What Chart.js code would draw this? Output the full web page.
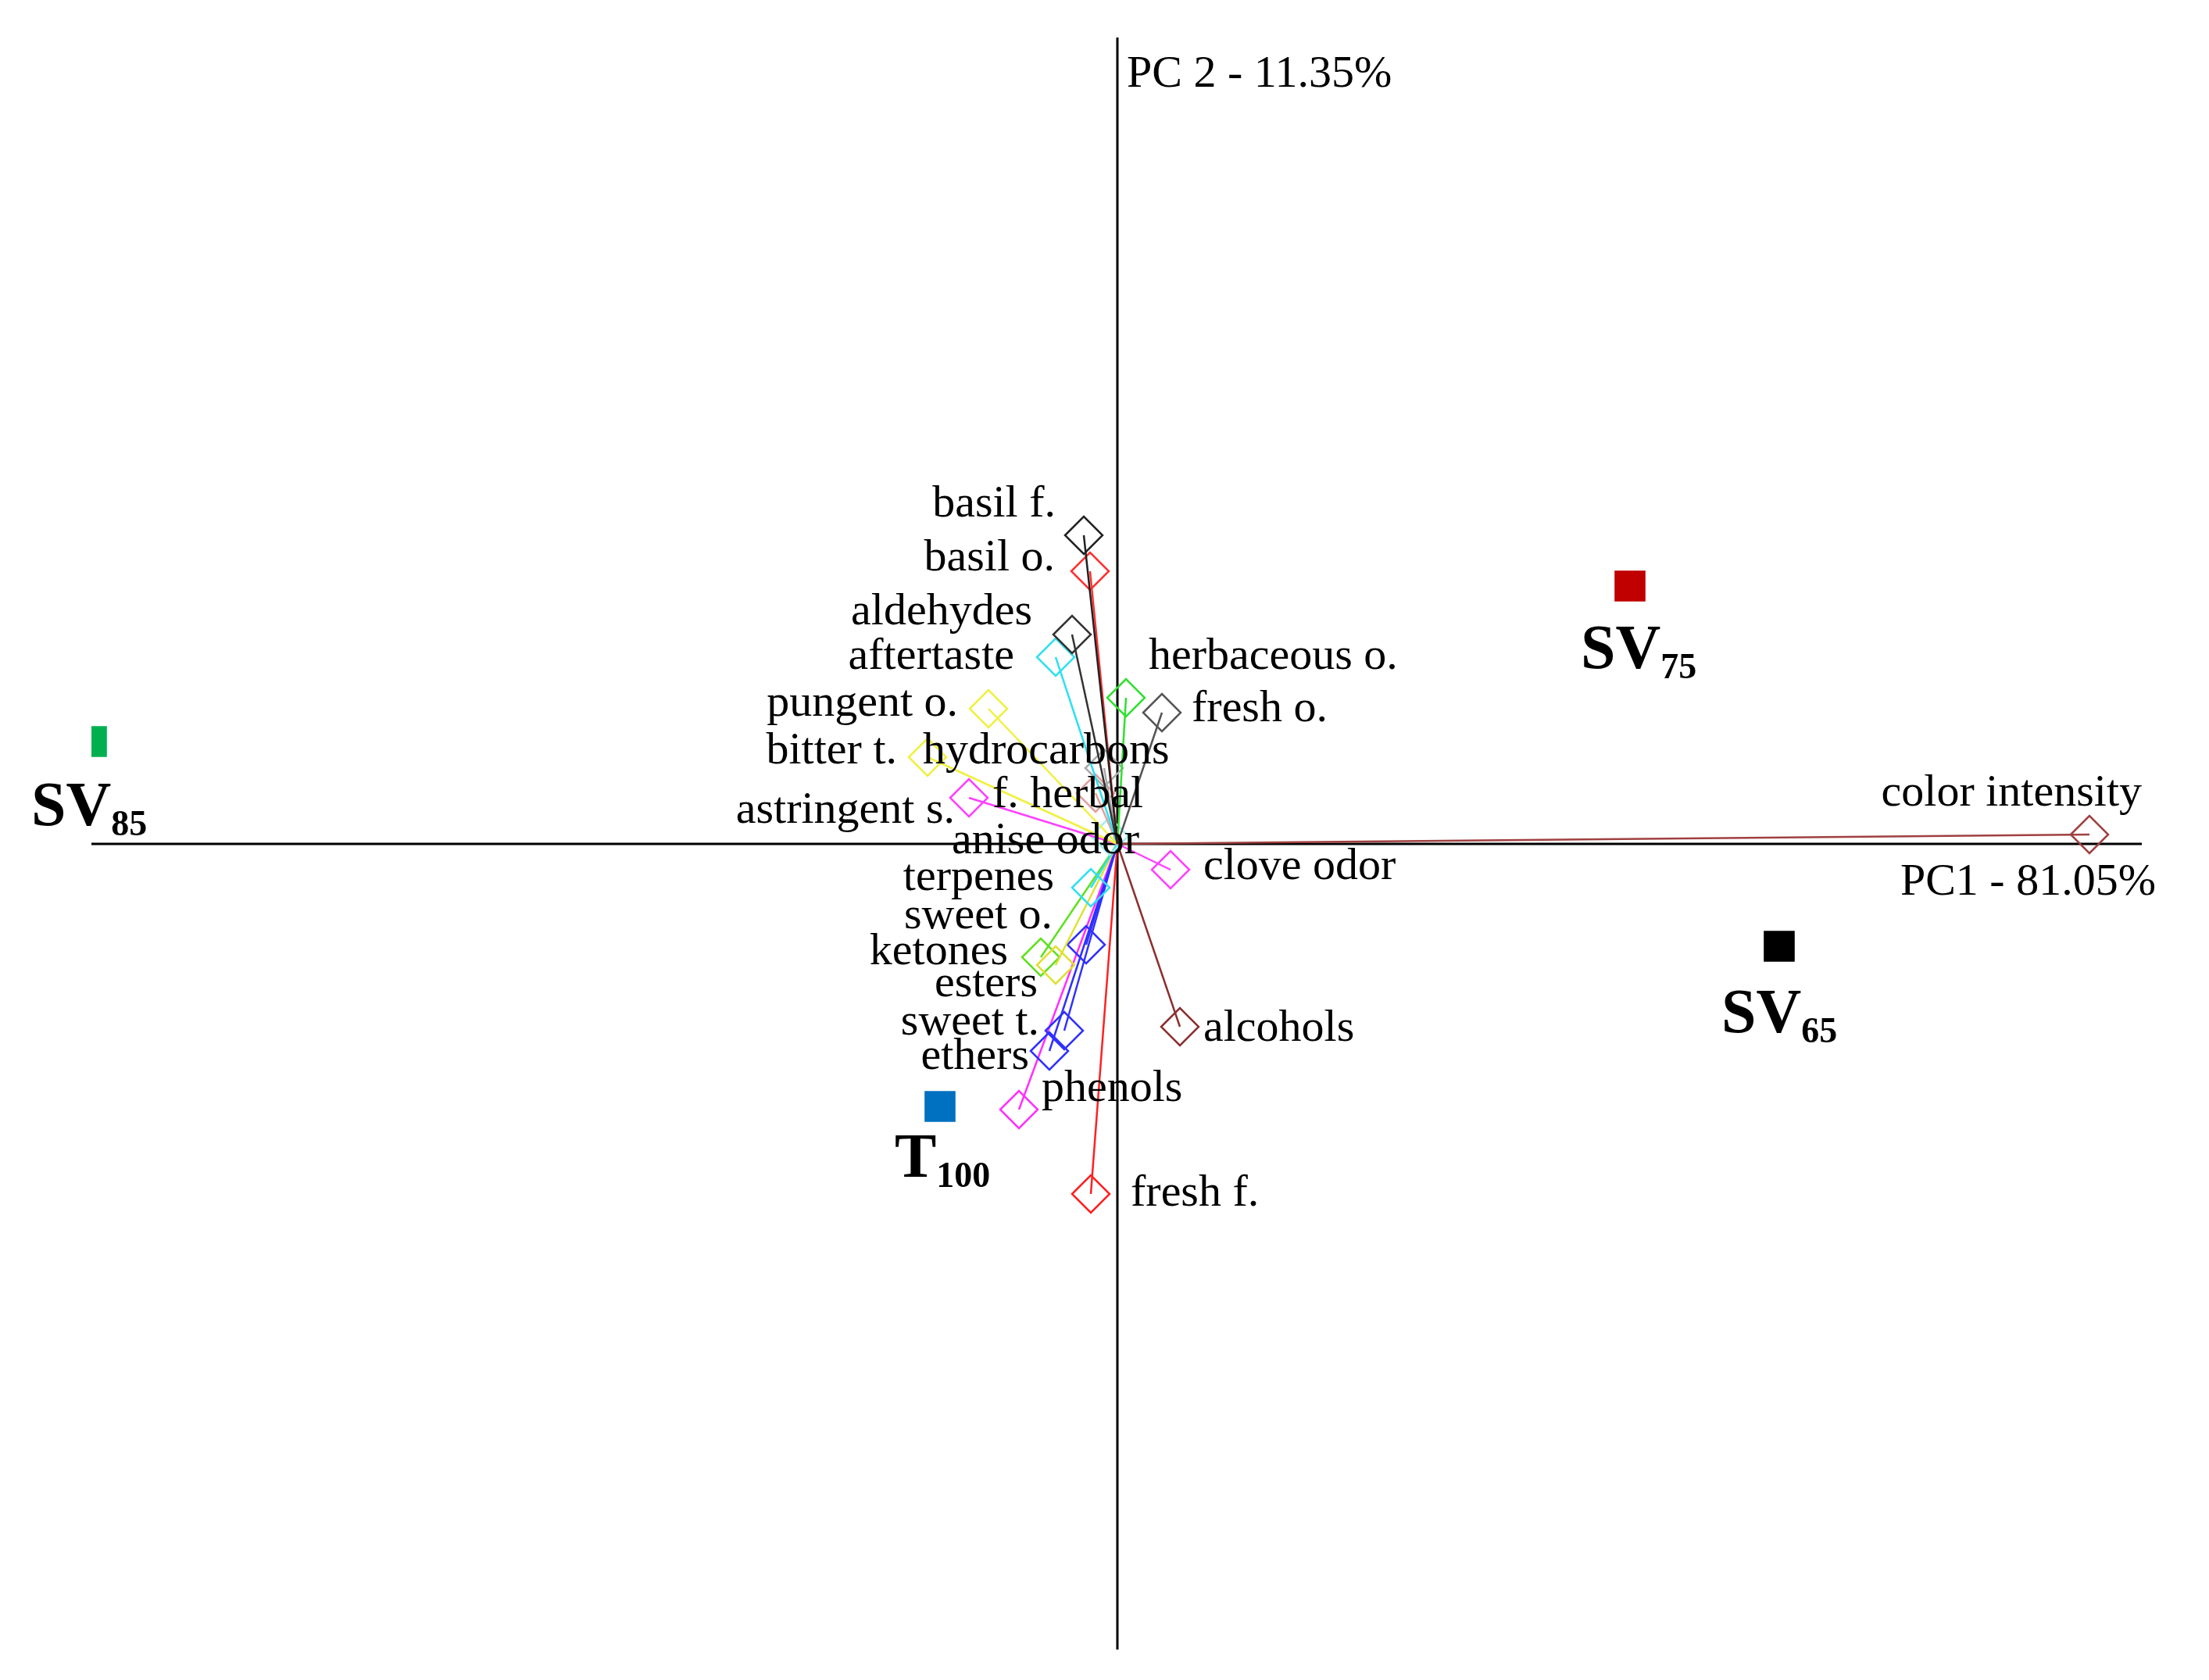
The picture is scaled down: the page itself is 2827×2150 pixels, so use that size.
<!DOCTYPE html>
<html><head><meta charset="utf-8">
<script src="https://cdn.jsdelivr.net/npm/chart.js@4"></script>
<style>html,body{margin:0;padding:0;background:#fff}</style>
</head><body>
<canvas id="c" width="2827" height="2150"></canvas>
<script>
// Scores (samples)
const sampleNames = ["SV", "SV", "SV", "T"];
const sampleSubs = ["85", "75", "65", "100"];
const sampleX = [-13.13, 6.56, 8.47, -2.27];
const sampleY = [1.31, 3.30, -1.31, -3.36];
const sampleColors = ["#00b050", "#c00000", "#000000", "#0070c0"];

// Loadings (variables)
const varNames = ["basil f.", "basil o.", "aldehydes", "aftertaste", "herbaceous o.", "fresh o.", "pungent o.", "bitter t.", "hydrocarbons", "f. herbal", "astringent s.", "anise odor", "clove odor", "terpenes", "sweet o.", "ketones", "esters", "sweet t.", "ethers", "phenols", "fresh f.", "alcohols", "color intensity"];
const varX = [-0.43, -0.35, -0.58, -0.79, 0.11, 0.57, -1.65, -2.43, -0.17, -0.28, -1.90, -0.10, 0.68, -0.34, -0.79, -0.98, -0.40, -0.68, -0.87, -1.26, -0.34, 0.80, 12.44];
const varY = [3.95, 3.49, 2.68, 2.39, 1.87, 1.68, 1.73, 1.11, 0.97, 0.65, 0.59, 0.10, -0.33, -0.56, -1.55, -1.45, -1.29, -2.39, -2.65, -3.40, -4.48, -2.34, 0.12];
const varColors = ["#222222", "#ff3030", "#333333", "#30e0f0", "#30e030", "#555555", "#f0f040", "#f0f040", "#aaaaaa", "#e0a0a0", "#ff40ff", "#a0f0f0", "#ff40ff", "#30e0f0", "#e0e030", "#60e020", "#3030ff", "#3030ff", "#3030ff", "#ff30ff", "#ff2020", "#8b3030", "#a04040"];
const axisTitles = ["PC1 - 81.05%", "PC 2 - 11.35%"];

// label layout (pixel offsets from marker): [dx, dy, align]
const varLabelPos = [[-36,-39,"right"],[-45,-16,"right"],[-51,-28,"right"],[-53,0,"right"],[29,-52,"left"],[38,-4,"left"],[-39,-6,"right"],[-39,-7,"right"],[-232,-21,"left"],[-132,3,"left"],[-18,17,"right"],[-202,7,"left"],[42,-3,"left"],[-47,-12,"right"],[-4,-62,"right"],[-42,-6,"right"],[-62,51,"right"],[-32,-10,"right"],[-26,8,"right"],[29,-26,"left"],[51,0,"left"],[30,3,"left"],[67,-52,"right"]];
const sampleLabelPos = [[-77,86],[-63,84],[-74,89],[-58,69]];

const datasets = [];
varNames.forEach((n, i) => {
  datasets.push({
    type: "line", label: n,
    data: [{x: 0, y: 0}, {x: varX[i], y: varY[i]}],
    borderColor: varColors[i], borderWidth: 2.5,
    pointStyle: "rectRot", pointRadius: [0, 24], pointBorderWidth: 2.5,
    pointBackgroundColor: "rgba(0,0,0,0)", pointBorderColor: varColors[i],
    fill: false, tension: 0
  });
});
datasets.push({
  type: "scatter", label: "samples",
  data: sampleX.map((x, i) => ({x, y: sampleY[i]})),
  pointStyle: "rect", pointRadius: 28,
  backgroundColor: sampleColors, borderColor: sampleColors, borderWidth: 0
});

const SERIF = "'Liberation Serif', 'DejaVu Serif', serif";
const plugin = {
  id: "pcaDeco",
  beforeDatasetsDraw(chart) {
    const {ctx, chartArea: a, scales: {x, y}} = chart;
    const x0 = x.getPixelForValue(0), y0 = y.getPixelForValue(0);
    ctx.save();
    ctx.strokeStyle = "#000"; ctx.lineWidth = 3;
    ctx.beginPath();
    ctx.moveTo(a.left, y0); ctx.lineTo(a.right, y0);
    ctx.moveTo(x0, a.top); ctx.lineTo(x0, a.bottom);
    ctx.stroke();
    ctx.restore();
  },
  afterDatasetsDraw(chart) {
    const {ctx, chartArea: a, scales: {x, y}} = chart;
    ctx.save();
    ctx.fillStyle = "#000";
    ctx.textBaseline = "middle";
    ctx.font = "58px " + SERIF;
    varNames.forEach((n, i) => {
      const p = chart.getDatasetMeta(i).data[1];
      const [dx, dy, al] = varLabelPos[i];
      ctx.textAlign = al;
      ctx.fillText(n, p.x + dx, p.y + dy);
    });
    const x0 = x.getPixelForValue(0), y0 = y.getPixelForValue(0);
    ctx.textAlign = "left";
    ctx.fillText(axisTitles[1], x0 + 12, a.top + 48);
    ctx.textAlign = "right";
    ctx.fillText(axisTitles[0], a.right + 18, y0 + 50);
    const meta = chart.getDatasetMeta(varNames.length);
    sampleNames.forEach((n, i) => {
      const p = meta.data[i];
      const [dx, dy] = sampleLabelPos[i];
      ctx.textAlign = "left";
      ctx.font = "bold 80px " + SERIF;
      ctx.fillText(n, p.x + dx, p.y + dy);
      const w = ctx.measureText(n).width;
      ctx.font = "bold 46px " + SERIF;
      ctx.fillText(sampleSubs[i], p.x + dx + w, p.y + dy + 22);
    });
    ctx.restore();
  }
};

new Chart(document.getElementById("c"), {
  type: "scatter",
  data: {datasets},
  options: {
    responsive: false, animation: false, devicePixelRatio: 1,
    layout: {padding: {left: 117, right: 86, top: 48, bottom: 39}},
    plugins: {legend: {display: false}, tooltip: {enabled: false}},
    scales: {
      x: {type: "linear", min: -13.13, max: 13.11, display: false},
      y: {type: "linear", min: -10.31, max: 10.32, display: false}
    }
  },
  plugins: [plugin]
});
</script>
</body></html>
